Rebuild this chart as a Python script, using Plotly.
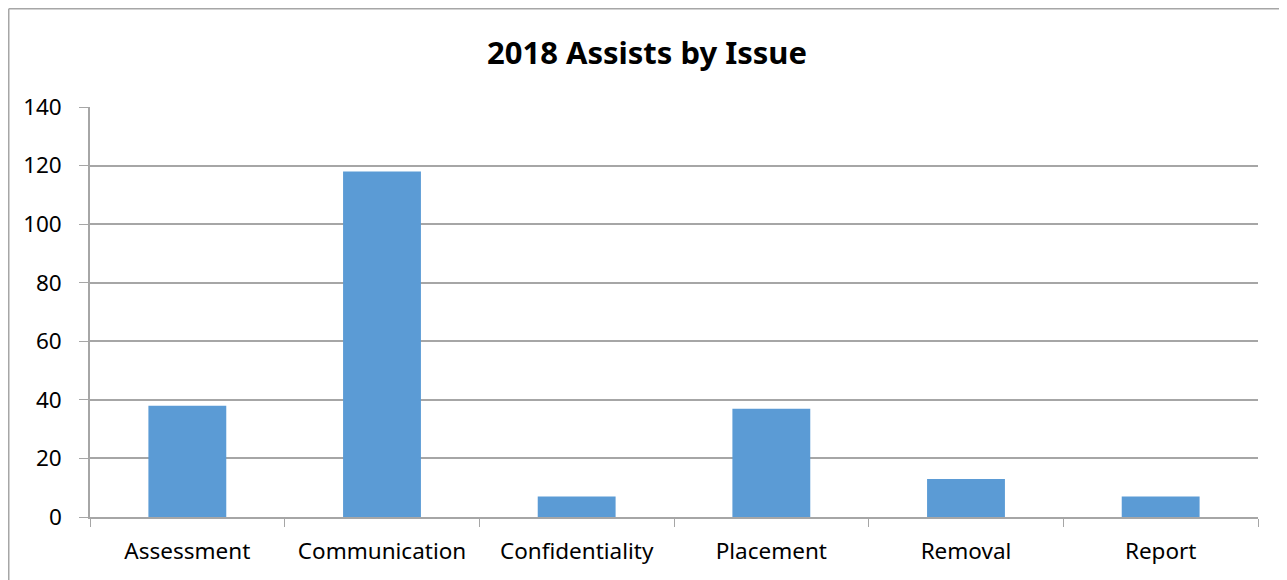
import plotly.graph_objects as go

categories = ["Assessment", "Communication", "Confidentiality", "Placement", "Removal", "Report"]
values = [38, 118, 7, 37, 13, 7]
y_ticks = [0, 20, 40, 60, 80, 100, 120, 140]

OFF = 8  # page body margin
W, H = 1287 - OFF, 580 - OFF
L, T = 90 - OFF, 107 - OFF
R = W - (1258 - OFF)
B = H - (517 - OFF)
pw, ph = W - L - R, H - T - B

fig = go.Figure(go.Bar(x=categories, y=values, marker=dict(color="#5b9bd5", line=dict(width=0)),
                       width=0.4))

grid = "#a6a6a6"
fig.update_layout(
    width=W, height=H,
    margin=dict(l=L, r=R, t=T, b=B),
    paper_bgcolor="white", plot_bgcolor="white",
    font=dict(family="Noto Sans, sans-serif", size=22.5, color="black"),
    title=dict(text="<b>2018 Assists by Issue</b>", x=(647 - OFF) / W, xanchor="center",
               y=1 - (53 - OFF) / H, yanchor="middle", font=dict(size=31, color="black")),
    showlegend=False,
    bargap=0.6,
)
fig.update_xaxes(
    type="category", tickson="boundaries", ticks="outside", ticklen=8,
    tickcolor=grid, showline=True, linecolor=grid, linewidth=1.5,
    showgrid=False, ticklabelstandoff=13,
)
fig.update_yaxes(
    range=[0, 140], tickvals=y_ticks, ticks="outside", ticklen=9, tickcolor=grid,
    showgrid=True, gridcolor=grid, gridwidth=1.5, showline=True, linecolor=grid,
    linewidth=1.5, zeroline=False, ticklabelstandoff=13,
)
# outer chart border (only left and top edges visible)
xl = (0.75 - L) / pw
xr = (W + 40 - L) / pw
yt = (H - 0.75 - B) / ph
yb = -(B + 40) / ph
fig.add_shape(type="line", xref="paper", yref="paper", x0=xl, x1=xl, y0=yb, y1=yt,
              line=dict(color="#a6a6a6", width=1.5), layer="below")
fig.add_shape(type="line", xref="paper", yref="paper", x0=xl, x1=xr, y0=yt, y1=yt,
              line=dict(color="#a6a6a6", width=1.5), layer="below")

fig.write_html("out.html")
